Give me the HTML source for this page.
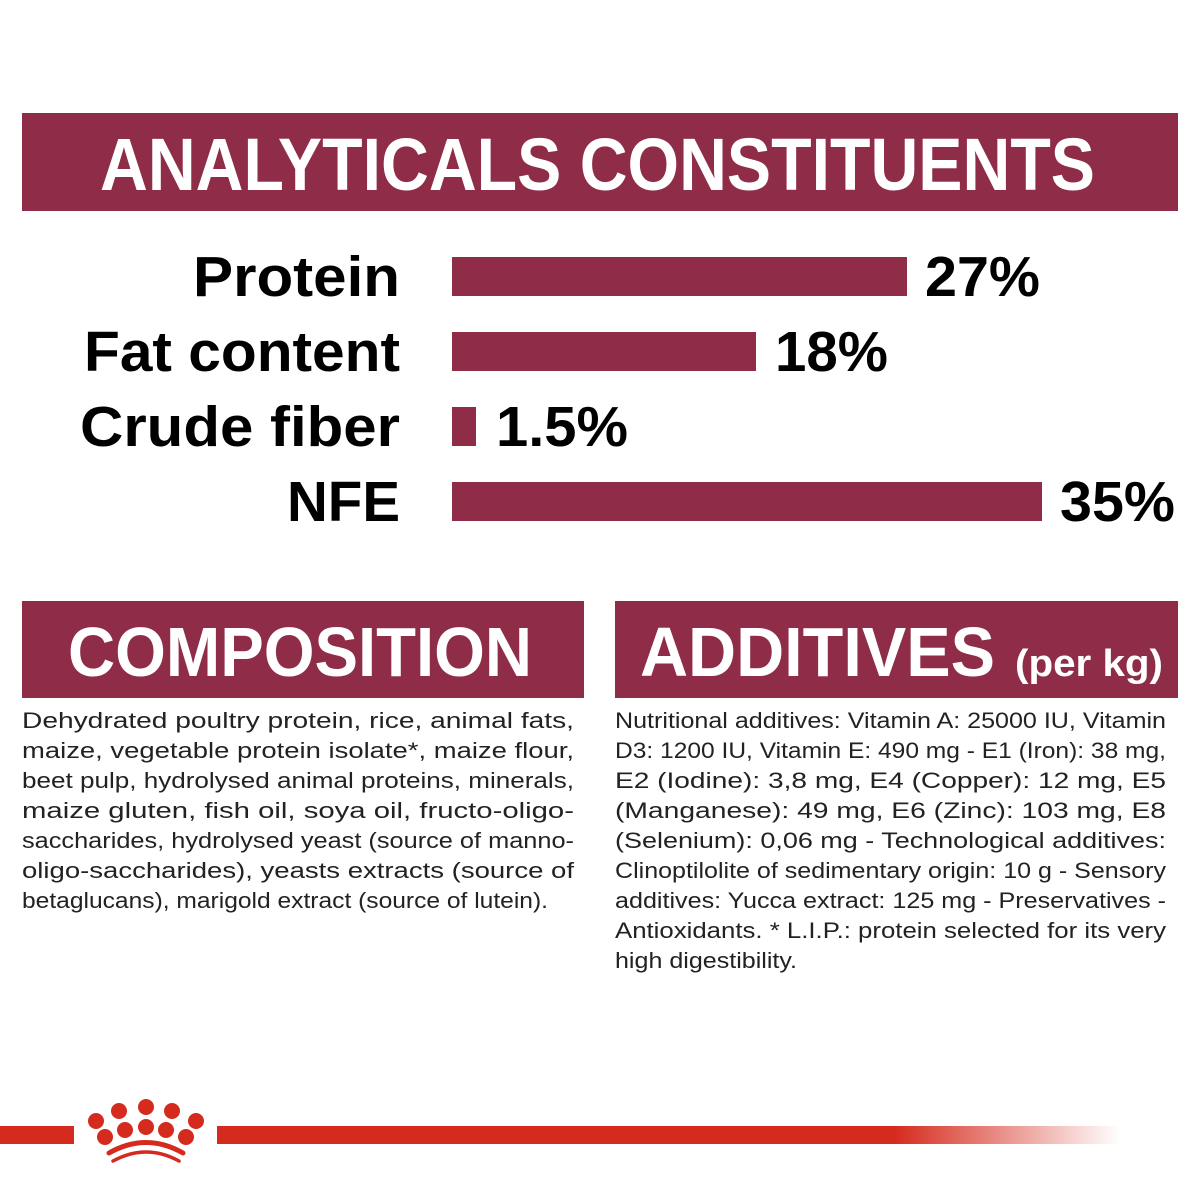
<!DOCTYPE html>
<html><head><meta charset="utf-8"><style>html,body{margin:0;padding:0;background:#fff}svg{display:block}</style></head>
<body>
<svg width="1200" height="1200" viewBox="0 0 1200 1200" xmlns="http://www.w3.org/2000/svg" font-family="Liberation Sans, sans-serif">
<defs><linearGradient id="g" x1="0" x2="1"><stop offset="0" stop-color="#d52b1e"/><stop offset="0.75" stop-color="#d52b1e"/><stop offset="1" stop-color="#d52b1e" stop-opacity="0"/></linearGradient></defs>
<rect x="22" y="113" width="1156" height="98" fill="#8f2c47"/>
<text x="100" y="190" font-size="74" font-weight="bold" fill="#fff" textLength="995" lengthAdjust="spacingAndGlyphs">ANALYTICALS CONSTITUENTS</text>
<g font-size="57" font-weight="bold" fill="#000">
<text x="193" y="296" textLength="207" lengthAdjust="spacingAndGlyphs">Protein</text>
<text x="84" y="371" textLength="316" lengthAdjust="spacingAndGlyphs">Fat content</text>
<text x="80" y="446" textLength="320" lengthAdjust="spacingAndGlyphs">Crude fiber</text>
<text x="287" y="521" textLength="113" lengthAdjust="spacingAndGlyphs">NFE</text>
<text x="925" y="296" textLength="115" lengthAdjust="spacingAndGlyphs">27%</text>
<text x="775" y="371" textLength="113" lengthAdjust="spacingAndGlyphs">18%</text>
<text x="496" y="446" textLength="132" lengthAdjust="spacingAndGlyphs">1.5%</text>
<text x="1060" y="521" textLength="115" lengthAdjust="spacingAndGlyphs">35%</text>
</g>
<g fill="#8f2c47">
<rect x="452" y="257" width="455" height="39"/>
<rect x="452" y="332" width="304" height="39"/>
<rect x="452" y="407" width="24" height="39"/>
<rect x="452" y="482" width="590" height="39"/>
<rect x="22" y="601" width="562" height="97"/>
<rect x="615" y="601" width="563" height="97"/>
</g>
<g fill="#fff" font-weight="bold">
<text x="68" y="676" font-size="70" textLength="464" lengthAdjust="spacingAndGlyphs">COMPOSITION</text>
<text x="640" y="676" font-size="70" textLength="355" lengthAdjust="spacingAndGlyphs">ADDITIVES</text>
<text x="1015" y="676" font-size="38" textLength="148" lengthAdjust="spacingAndGlyphs">(per kg)</text>
</g>
<g font-size="22" fill="#222">
<text x="22" y="728" textLength="552" lengthAdjust="spacingAndGlyphs">Dehydrated   poultry   protein,   rice,   animal   fats,</text>
<text x="22" y="758" textLength="552" lengthAdjust="spacingAndGlyphs">maize,  vegetable  protein  isolate*,  maize  flour,</text>
<text x="22" y="788" textLength="552" lengthAdjust="spacingAndGlyphs">beet pulp, hydrolysed animal proteins, minerals,</text>
<text x="22" y="818" textLength="552" lengthAdjust="spacingAndGlyphs">maize   gluten,   fish   oil,   soya   oil,   fructo-oligo-</text>
<text x="22" y="848" textLength="552" lengthAdjust="spacingAndGlyphs">saccharides, hydrolysed yeast (source of manno-</text>
<text x="22" y="878" textLength="552" lengthAdjust="spacingAndGlyphs">oligo-saccharides),   yeasts   extracts   (source   of</text>
<text x="22" y="908" textLength="526" lengthAdjust="spacingAndGlyphs">betaglucans), marigold extract (source of lutein).</text>
<text x="615" y="728" textLength="551" lengthAdjust="spacingAndGlyphs">Nutritional additives: Vitamin A: 25000 IU, Vitamin</text>
<text x="615" y="758" textLength="551" lengthAdjust="spacingAndGlyphs">D3: 1200 IU, Vitamin E: 490 mg - E1 (Iron): 38 mg,</text>
<text x="615" y="788" textLength="551" lengthAdjust="spacingAndGlyphs">E2  (Iodine):  3,8  mg,  E4  (Copper):  12  mg,  E5</text>
<text x="615" y="818" textLength="551" lengthAdjust="spacingAndGlyphs">(Manganese):  49  mg,  E6  (Zinc):  103  mg,  E8</text>
<text x="615" y="848" textLength="551" lengthAdjust="spacingAndGlyphs">(Selenium):  0,06  mg  -  Technological  additives:</text>
<text x="615" y="878" textLength="551" lengthAdjust="spacingAndGlyphs">Clinoptilolite of sedimentary origin: 10 g - Sensory</text>
<text x="615" y="908" textLength="551" lengthAdjust="spacingAndGlyphs">additives:  Yucca  extract:  125  mg  -  Preservatives  -</text>
<text x="615" y="938" textLength="551" lengthAdjust="spacingAndGlyphs">Antioxidants.  *  L.I.P.:  protein  selected  for  its  very</text>
<text x="615" y="968" textLength="182" lengthAdjust="spacingAndGlyphs">high digestibility.</text>
</g>
<rect x="0" y="1126" width="74" height="18" fill="#d52b1e"/>
<rect x="217" y="1126" width="903" height="18" fill="url(#g)"/>
<g fill="#d52b1e">
<circle cx="96" cy="1121" r="8"/><circle cx="119" cy="1111" r="8"/><circle cx="146" cy="1107" r="8"/><circle cx="172" cy="1111" r="8"/><circle cx="196" cy="1121" r="8"/>
<circle cx="105" cy="1137" r="8"/><circle cx="125" cy="1130" r="8"/><circle cx="146" cy="1127" r="8"/><circle cx="166" cy="1130" r="8"/><circle cx="186" cy="1137" r="8"/>
</g>
<path d="M109 1153 Q146 1132 183 1153" stroke="#d52b1e" stroke-width="5" fill="none" stroke-linecap="round"/>
<path d="M113 1161 Q146 1143 179 1161" stroke="#d52b1e" stroke-width="3.5" fill="none" stroke-linecap="round"/>
</svg>
</body></html>
